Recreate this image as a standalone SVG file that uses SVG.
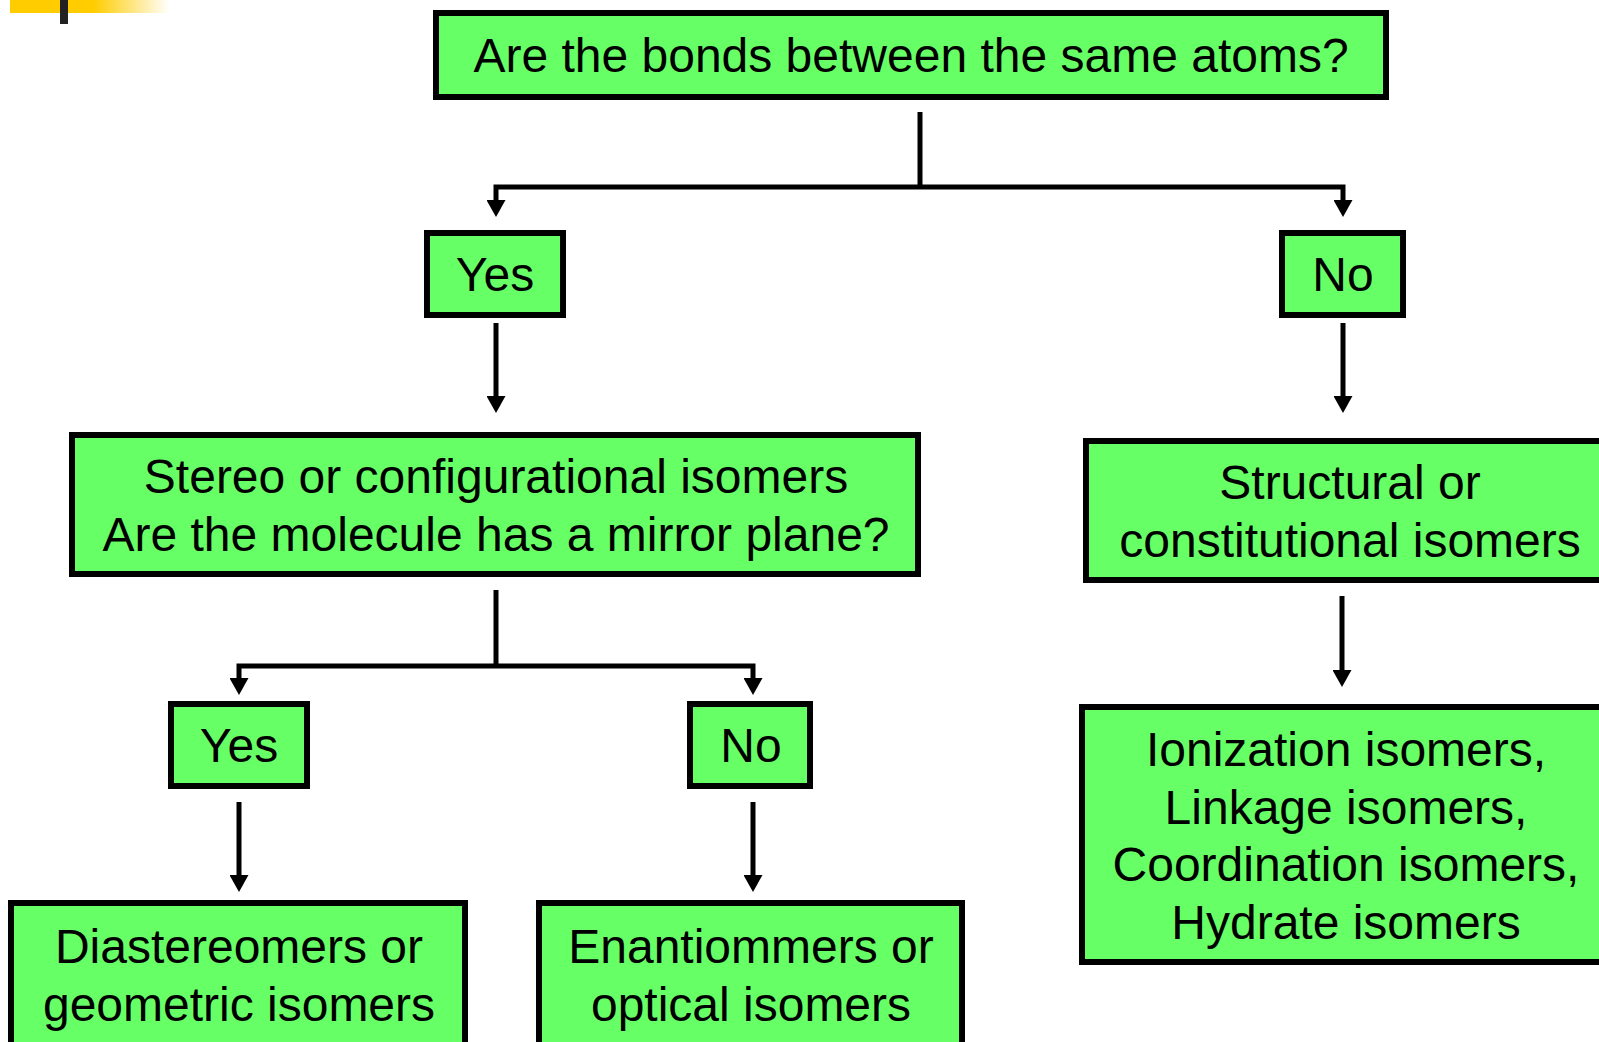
<svg xmlns="http://www.w3.org/2000/svg" width="1599" height="1042" viewBox="0 0 1599 1042">
<style>
.box{fill:#66FF66;stroke:#000;stroke-width:6}
.t{font-family:"Liberation Sans",Arial,sans-serif;font-size:48px;fill:#000;text-anchor:middle}
.c{fill:none;stroke:#000;stroke-width:5;stroke-linejoin:miter}
</style>
<defs>
<linearGradient id="yg" gradientUnits="userSpaceOnUse" x1="10" y1="0" x2="170" y2="0">
<stop offset="0" stop-color="#FFCC00"/>
<stop offset="0.52" stop-color="#FFCC00"/>
<stop offset="1" stop-color="#FFCC00" stop-opacity="0"/>
</linearGradient>
<marker id="ah" markerUnits="userSpaceOnUse" markerWidth="17" markerHeight="19" viewBox="0 0 17 19" refX="0" refY="9.5" orient="auto">
<path d="M0,0 L17,9.5 L0,19 z" fill="#000"/>
</marker>
</defs>
<rect width="1599" height="1042" fill="#fff"/>
<rect x="10" y="0" width="162" height="13" fill="url(#yg)"/>
<rect x="60" y="0" width="8" height="24" fill="#222"/>

<g id="connectors">
<path class="c" d="M920,112 V187"/>
<path class="c" d="M920,187 H496 V200" marker-end="url(#ah)"/>
<path class="c" d="M920,187 H1343 V200" marker-end="url(#ah)"/>
<path class="c" d="M496,323 V396" marker-end="url(#ah)"/>
<path class="c" d="M1343,323 V396" marker-end="url(#ah)"/>
<path class="c" d="M496,590 V666"/>
<path class="c" d="M496,666 H239 V678" marker-end="url(#ah)"/>
<path class="c" d="M496,666 H753 V678" marker-end="url(#ah)"/>
<path class="c" d="M239,802 V875" marker-end="url(#ah)"/>
<path class="c" d="M753,802 V875" marker-end="url(#ah)"/>
<path class="c" d="M1342,596 V670" marker-end="url(#ah)"/>
</g>

<g id="q1">
<rect class="box" x="436" y="13" width="950" height="84"/>
<text class="t" x="911" y="72">Are the bonds between the same atoms?</text>
</g>
<g id="yes1">
<rect class="box" x="427" y="233" width="136" height="82"/>
<text class="t" x="495" y="291">Yes</text>
</g>
<g id="no1">
<rect class="box" x="1282" y="233" width="121" height="82"/>
<text class="t" x="1343" y="291">No</text>
</g>
<g id="stereo">
<rect class="box" x="72" y="435" width="846" height="139"/>
<text class="t" x="496" y="493">Stereo or configurational isomers</text>
<text class="t" x="496" y="550.5">Are the molecule has a mirror plane?</text>
</g>
<g id="structural">
<rect class="box" x="1086" y="441" width="523" height="139"/>
<text class="t" x="1350" y="499">Structural or</text>
<text class="t" x="1350" y="557">constitutional isomers</text>
</g>
<g id="yes2">
<rect class="box" x="171" y="704" width="136" height="82"/>
<text class="t" x="239" y="762">Yes</text>
</g>
<g id="no2">
<rect class="box" x="690" y="704" width="120" height="82"/>
<text class="t" x="751" y="762">No</text>
</g>
<g id="diastereomers">
<rect class="box" x="11" y="903" width="454" height="160"/>
<text class="t" x="239" y="963">Diastereomers or</text>
<text class="t" x="239" y="1020.5">geometric isomers</text>
</g>
<g id="enantiomers">
<rect class="box" x="539" y="903" width="423" height="160"/>
<text class="t" x="751" y="963">Enantiommers or</text>
<text class="t" x="751" y="1020.5">optical isomers</text>
</g>
<g id="ionization">
<rect class="box" x="1082" y="707" width="526" height="255"/>
<text class="t" x="1346" y="766">Ionization isomers,</text>
<text class="t" x="1346" y="823.5">Linkage isomers,</text>
<text class="t" x="1346" y="881">Coordination isomers,</text>
<text class="t" x="1346" y="938.5">Hydrate isomers</text>
</g>
</svg>
